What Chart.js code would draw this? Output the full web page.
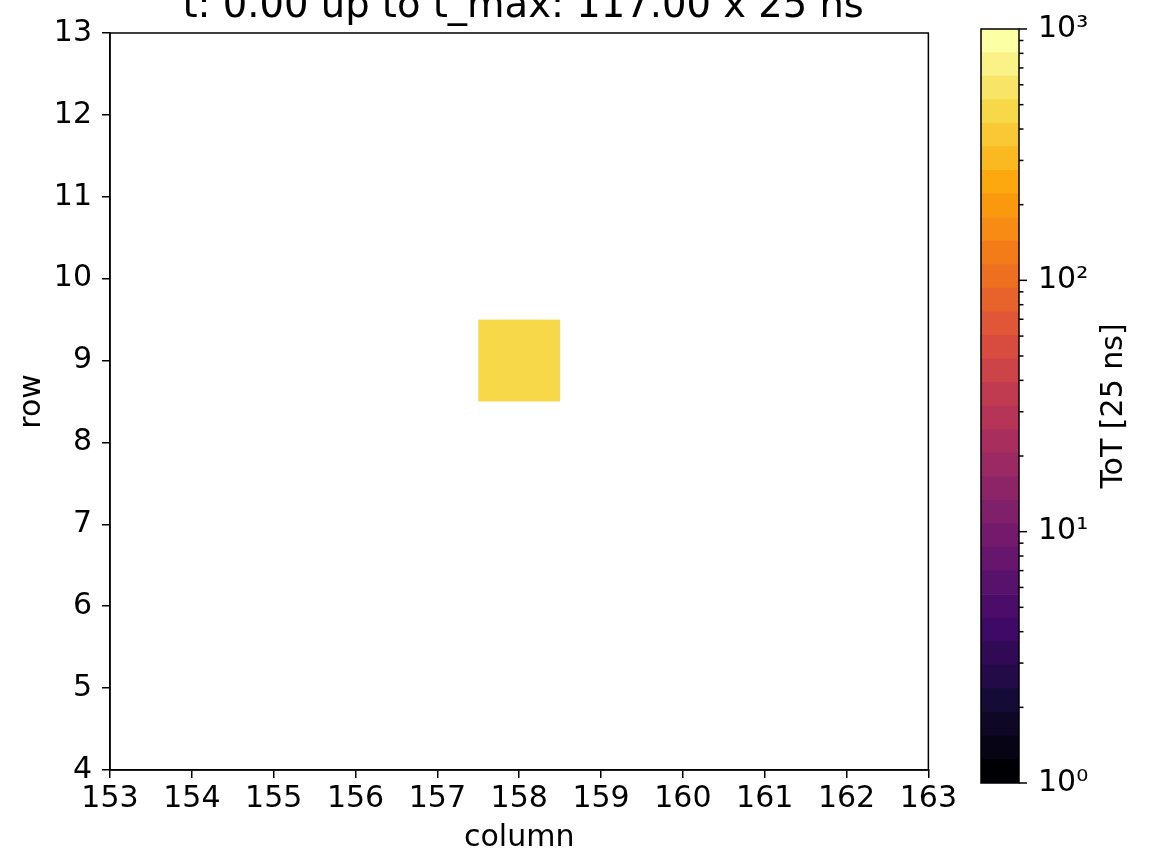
<!DOCTYPE html>
<html lang="en">
<head>
  <meta charset="UTF-8">
  <title>ToT map</title>
  <script src="https://cdn.jsdelivr.net/npm/chart.js@4.4.0/dist/chart.umd.min.js"></script>
  <style>
    body { margin: 0; padding: 0; background: #fff; }
    .wrap { position: relative; width: 1153px; height: 856px; overflow: hidden; background: #fff; }
    #heatChart { position: absolute; left: 0; top: 0; }
    #cbarChart { position: absolute; left: 960px; top: 0; }
  </style>
</head>
<body>
  <div class="wrap">
    <canvas id="heatChart" width="960" height="856"></canvas>
    <canvas id="cbarChart" width="193" height="856"></canvas>
  </div>

  <script>
    // hit pixels (column, row, ToT)
    const columns = [158];
    const rows = [9];
    const tot = [480];

    const xTicks = [153, 154, 155, 156, 157, 158, 159, 160, 161, 162, 163];
    const yTicks = [4, 5, 6, 7, 8, 9, 10, 11, 12, 13];

    // colorbar
    const cbDecades = [1, 10, 100, 1000];
    const cbDecadeLabels = ['10⁰', '10¹', '10²', '10³'];
    const cbMinor = [2, 3, 4, 5, 6, 7, 8, 9];
    const nBands = 32;

    const titleText = 't: 0.00 up to t_max: 117.00 x 25 ns';

    // inferno colormap stops (0, 0.1 ... 1)
    const inferno = ['#000004', '#160b39', '#420a68', '#6a176e', '#932667', '#bc3754',
                     '#dd513a', '#f37819', '#fca50a', '#f6d746', '#fcffa4'];

    function hexRgb(h) {
      return [parseInt(h.slice(1, 3), 16), parseInt(h.slice(3, 5), 16), parseInt(h.slice(5, 7), 16)];
    }
    function cmap(f) {
      f = Math.max(0, Math.min(1, f));
      const p = f * (inferno.length - 1);
      const i = Math.min(Math.floor(p), inferno.length - 2);
      const t = p - i;
      const a = hexRgb(inferno[i]), b = hexRgb(inferno[i + 1]);
      const c = a.map((v, k) => Math.round(v + (b[k] - v) * t));
      return `rgb(${c[0]}, ${c[1]}, ${c[2]})`;
    }
    // discrete colour for a ToT value (log norm 1..1000)
    function totColor(v) {
      const f = Math.log10(v) / 3;
      const idx = Math.min(nBands - 1, Math.floor(f * nBands));
      return cmap(idx / (nBands - 1));
    }

    Chart.defaults.font.family = 'DejaVu Sans';
    Chart.defaults.color = '#000';

    const cells = columns.map((c, i) => ({ x: c, y: rows[i], v: tot[i] }));

    const heatCells = {
      id: 'heatCells',
      beforeDatasetsDraw(chart) {
        const { ctx, chartArea, scales: { x, y } } = chart;
        ctx.save();
        ctx.beginPath();
        ctx.rect(chartArea.left, chartArea.top, chartArea.width, chartArea.height);
        ctx.clip();
        chart.data.datasets[0].data.forEach(d => {
          const x0 = x.getPixelForValue(d.x - 0.5), x1 = x.getPixelForValue(d.x + 0.5);
          const y0 = y.getPixelForValue(d.y + 0.5), y1 = y.getPixelForValue(d.y - 0.5);
          ctx.fillStyle = totColor(d.v);
          ctx.fillRect(x0, y0, x1 - x0, y1 - y0);
        });
        ctx.restore();
      }
    };

    const frame = {
      id: 'frame',
      afterDraw(chart) {
        const { ctx, chartArea: a } = chart;
        ctx.save();
        ctx.strokeStyle = '#000';
        ctx.lineWidth = 1.5;
        ctx.strokeRect(a.left, a.top, a.width, a.height);
        ctx.restore();
      }
    };

    const plotTitle = {
      id: 'plotTitle',
      afterDraw(chart) {
        const { ctx, chartArea: a } = chart;
        ctx.save();
        ctx.font = '38.5px "DejaVu Sans"';
        ctx.fillStyle = '#000';
        ctx.textAlign = 'center';
        ctx.textBaseline = 'alphabetic';
        ctx.fillText(titleText, (a.left + a.right) / 2 + 4, 17);
        ctx.restore();
      }
    };

    new Chart(document.getElementById('heatChart'), {
      type: 'scatter',
      data: { datasets: [{ data: cells, pointRadius: 0, pointHoverRadius: 0 }] },
      options: {
        responsive: false,
        animation: false,
        devicePixelRatio: 1,
        layout: { padding: { top: 33, right: 31, left: 0, bottom: 0 } },
        plugins: { legend: { display: false }, tooltip: { enabled: false } },
        scales: {
          x: {
            type: 'linear', min: 153, max: 163,
            afterBuildTicks: s => { s.ticks = xTicks.map(v => ({ value: v })); },
            afterFit: s => { s.height = 86; },
            ticks: { font: { size: 30 }, color: '#000', padding: 3, maxRotation: 0, autoSkip: false },
            grid: { drawOnChartArea: false, drawTicks: true, tickLength: 8, color: '#000', lineWidth: 1.5 },
            border: { display: true, color: '#000', width: 1.5 },
            title: { display: true, text: 'column', font: { size: 30 }, color: '#000', padding: 0 }
          },
          y: {
            type: 'linear', min: 4, max: 13,
            afterBuildTicks: s => { s.ticks = yTicks.map(v => ({ value: v })); },
            afterFit: s => { s.width = 110; },
            ticks: { font: { size: 30 }, color: '#000', padding: 10, autoSkip: false },
            grid: { drawOnChartArea: false, drawTicks: true, tickLength: 8, color: '#000', lineWidth: 1.5 },
            border: { display: true, color: '#000', width: 1.5 },
            title: { display: true, text: 'row', font: { size: 30 }, color: '#000', padding: { top: 14, bottom: 0 } }
          }
        }
      },
      plugins: [heatCells, frame, plotTitle]
    });

    // colorbar: one floating bar per band on a log axis
    const bandSets = [];
    for (let i = 0; i < nBands; i++) {
      bandSets.push({
        data: [[Math.pow(10, 3 * i / nBands), Math.pow(10, 3 * (i + 1) / nBands)]],
        backgroundColor: cmap(i / (nBands - 1)),
        borderWidth: 0,
        grouped: false,
        barPercentage: 1,
        categoryPercentage: 1
      });
    }

    const cbarMarks = {
      id: 'cbarMarks',
      afterDraw(chart) {
        const { ctx, chartArea: a, scales: { y } } = chart;
        ctx.save();
        ctx.strokeStyle = '#000';
        ctx.lineWidth = 1.5;
        ctx.strokeRect(a.left, a.top, a.width, a.height);
        y.ticks.forEach(t => {
          const py = y.getPixelForValue(t.value);
          const len = t.major ? 8 : 4.5;
          ctx.beginPath();
          ctx.moveTo(a.right, py);
          ctx.lineTo(a.right + len, py);
          ctx.stroke();
        });
        ctx.font = '30px "DejaVu Sans"';
        ctx.fillStyle = '#000';
        ctx.textAlign = 'center';
        ctx.textBaseline = 'middle';
        ctx.translate(154, (a.top + a.bottom) / 2);
        ctx.rotate(-Math.PI / 2);
        ctx.fillText('ToT [25 ns]', 0, 0);
        ctx.restore();
      }
    };

    new Chart(document.getElementById('cbarChart'), {
      type: 'bar',
      data: { labels: [''], datasets: bandSets },
      options: {
        responsive: false,
        animation: false,
        devicePixelRatio: 1,
        layout: { padding: { top: 21, bottom: 73, left: 21, right: 0 } },
        plugins: { legend: { display: false }, tooltip: { enabled: false } },
        scales: {
          x: { display: false },
          y: {
            type: 'logarithmic', position: 'right', min: 1, max: 1000,
            afterBuildTicks: s => {
              const t = [];
              cbDecades.forEach((d, i) => {
                t.push({ value: d, major: true });
                if (i < cbDecades.length - 1) cbMinor.forEach(m => t.push({ value: d * m, major: false }));
              });
              s.ticks = t;
            },
            afterFit: s => { s.width = 134; },
            ticks: {
              font: { size: 30 }, color: '#000', padding: 11, autoSkip: false,
              callback: v => {
                const i = cbDecades.indexOf(v);
                return i >= 0 ? cbDecadeLabels[i] : '';
              }
            },
            grid: { drawOnChartArea: false, drawTicks: true, tickLength: 8, color: 'rgba(0,0,0,0)' },
            border: { display: false }
          }
        }
      },
      plugins: [cbarMarks]
    });
  </script>
</body>
</html>
